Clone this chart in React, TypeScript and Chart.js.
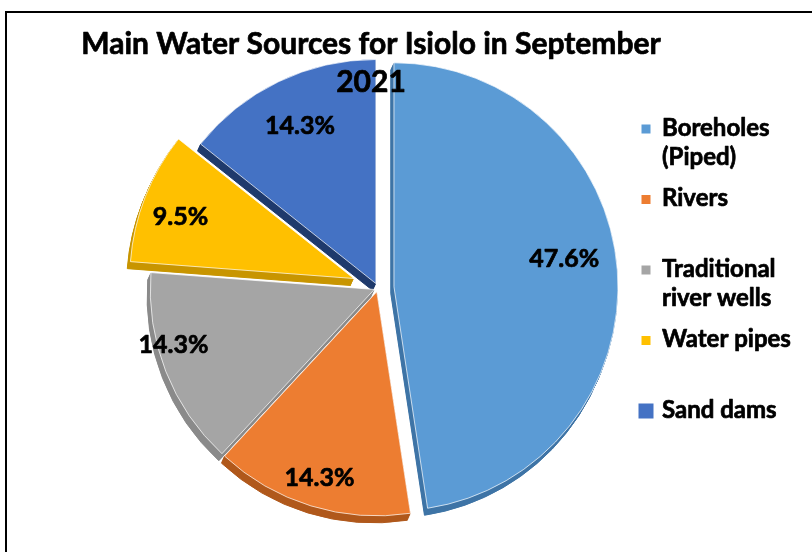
import React, { useEffect, useRef } from "react";
import { Chart, registerables } from "chart.js";

Chart.register(...registerables);

// ---- data ----
const CATEGORIES = ["Boreholes (Piped)", "Rivers", "Traditional river wells", "Water pipes", "Sand dams"];
const SHARES = [47.6, 14.3, 14.3, 9.5, 14.3];
const TITLE_LINES = ["Main Water Sources for Isiolo in September", "2021"];

// ---- style ----
const COLORS = ["#5B9BD5", "#ED7D31", "#A5A5A5", "#FFC000", "#4472C4"];
const SIDE_COLORS = ["#3E74A6", "#B0581B", "#8A8A8A", "#C89500", "#1F3A6C"];
const EXPLODE = [16, 4, 4, 26, 5];
const LABEL_RADIUS = [0.77, 0.87, 0.93, 0.82, 0.78];
const LABEL_ANGLE_SHIFT = [-5, 0, 6, -2, 0];
const LEGEND_MARKER = [9, 9, 9, 9, 15];
const FONT = "Lato, 'Open Sans', sans-serif";

function shiftOf(arc: any, i: number) {
  const mid = (arc.startAngle + arc.endAngle) / 2;
  return [Math.cos(mid) * EXPLODE[i], Math.sin(mid) * EXPLODE[i]];
}

function wrapText(ctx: CanvasRenderingContext2D, text: string, maxW: number) {
  const words = text.split(" ");
  const lines: string[] = [];
  let cur = "";
  for (const w of words) {
    const t = cur ? cur + " " + w : w;
    if (cur && ctx.measureText(t).width > maxW) {
      lines.push(cur);
      cur = w;
    } else cur = t;
  }
  if (cur) lines.push(cur);
  return lines;
}

function heavyText(ctx: CanvasRenderingContext2D, s: string, x: number, y: number) {
  ctx.strokeText(s, x, y);
  ctx.fillText(s, x, y);
}

const piePlugin = {
  id: "explodedPie3d",
  beforeDraw(chart: any) {
    const ctx = chart.ctx;
    ctx.save();
    ctx.fillStyle = "#ffffff";
    ctx.fillRect(0, 0, chart.width, chart.height);
    ctx.strokeStyle = "#000000";
    ctx.lineWidth = 2;
    ctx.beginPath();
    ctx.moveTo(6, chart.height + 5);
    ctx.lineTo(6, 12);
    ctx.lineTo(chart.width + 5, 12);
    ctx.stroke();
    ctx.restore();
  },
  beforeDatasetsDraw(chart: any) {
    const ctx = chart.ctx;
    const arcs = chart.getDatasetMeta(0).data;
    // side walls
    arcs.forEach((arc: any, i: number) => {
      const saved = arc.options;
      arc.options = { ...saved, backgroundColor: SIDE_COLORS[i], borderColor: SIDE_COLORS[i] };
      const [dx, dy] = shiftOf(arc, i);
      for (let k = 1; k <= 7; k++) {
        ctx.save();
        ctx.translate(dx - k * 0.45, dy + k);
        arc.draw(ctx);
        ctx.restore();
      }
      arc.options = saved;
    });
    // top faces
    arcs.forEach((arc: any, i: number) => {
      const [dx, dy] = shiftOf(arc, i);
      ctx.save();
      ctx.translate(dx, dy);
      arc.draw(ctx);
      ctx.restore();
    });
    return false;
  },
  afterDraw(chart: any) {
    const ctx = chart.ctx;
    const arcs = chart.getDatasetMeta(0).data;
    ctx.save();
    ctx.fillStyle = "#000000";
    ctx.strokeStyle = "#000000";
    ctx.lineWidth = 0.7;
    ctx.lineJoin = "round";
    // percentage labels
    ctx.font = `bold 25px ${FONT}`;
    ctx.textAlign = "center";
    ctx.textBaseline = "middle";
    arcs.forEach((arc: any, i: number) => {
      const mid = (arc.startAngle + arc.endAngle) / 2;
      const [dx, dy] = shiftOf(arc, i);
      const a = mid + (LABEL_ANGLE_SHIFT[i] * Math.PI) / 180;
      const r = arc.outerRadius * LABEL_RADIUS[i];
      const x = arc.x + dx + Math.cos(a) * r;
      const y = arc.y + dy + Math.sin(a) * r;
      heavyText(ctx, SHARES[i].toFixed(1) + "%", x, y);
    });
    // title
    ctx.font = `bold 30px ${FONT}`;
    TITLE_LINES.forEach((line, i) => {
      heavyText(ctx, line, 371, 44 + i * 38);
    });
    // legend
    ctx.font = `bold 24px ${FONT}`;
    ctx.textAlign = "left";
    CATEGORIES.forEach((cat, i) => {
      const top = 128 + i * 70.5;
      const s = LEGEND_MARKER[i];
      ctx.fillStyle = COLORS[i];
      ctx.fillRect(646 - s / 2, top + 1 - s / 2, s, s);
      ctx.fillStyle = "#000000";
      const lines = wrapText(ctx, cat, 140);
      lines.forEach((ln, j) => heavyText(ctx, ln, 662, top + j * 29));
    });
    ctx.restore();
  },
};

export default function App() {
  const ref = useRef<HTMLCanvasElement>(null);
  useEffect(() => {
    if (!ref.current) return;
    const chart = new Chart(ref.current, {
      type: "pie",
      data: {
        labels: CATEGORIES,
        datasets: [
          {
            data: SHARES,
            backgroundColor: COLORS,
            borderColor: "rgba(255,255,255,0.7)",
            borderWidth: 1,
            radius: 224,
            clip: false,
          } as any,
        ],
      },
      options: {
        responsive: false,
        animation: false,
        events: [],
        layout: { padding: { left: 100, right: 156, top: 41, bottom: 17 } },
        plugins: {
          legend: { display: false },
          title: { display: false },
          tooltip: { enabled: false },
        },
      },
      plugins: [piePlugin],
    });
    return () => chart.destroy();
  }, []);
  return (
    <div style={{ position: "absolute", left: 0, top: 0, width: 812, height: 552, overflow: "hidden" }}>
      <canvas ref={ref} width={812} height={552} style={{ display: "block" }} />
    </div>
  );
}
